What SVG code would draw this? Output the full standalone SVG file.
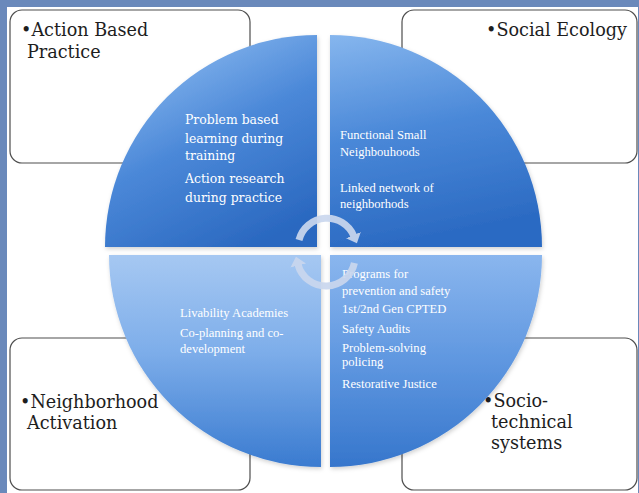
<svg xmlns="http://www.w3.org/2000/svg" width="639" height="493" viewBox="0 0 639 493">
<defs>
<style>
.box{fill:#ffffff;stroke:#4e4e4e;stroke-width:1.2}
.lbl{font-family:"DejaVu Serif","Liberation Serif",serif;font-size:17.6px;fill:#1e1e1e}
.qa{font-family:"DejaVu Serif","Liberation Serif",serif;font-size:12.4px;fill:#ffffff}
.qb{font-family:"Liberation Serif","DejaVu Serif",serif;font-size:12.6px;fill:#ffffff}
.arc{fill:none;stroke:#cad7ee;stroke-width:7;opacity:0.92}
</style>
<linearGradient id="gTL" x1="0.2" y1="0" x2="0.7" y2="1">
<stop offset="0" stop-color="#92bff2"/>
<stop offset="0.5" stop-color="#4b88d8"/>
<stop offset="1" stop-color="#2a68c0"/>
</linearGradient>
<linearGradient id="gTR" x1="0" y1="0" x2="0.2" y2="1">
<stop offset="0" stop-color="#86b6ee"/>
<stop offset="0.5" stop-color="#4a88d8"/>
<stop offset="1" stop-color="#2c6bc3"/>
</linearGradient>
<linearGradient id="gBL" x1="0" y1="0" x2="0" y2="1">
<stop offset="0" stop-color="#a6c8f2"/>
<stop offset="0.45" stop-color="#7eaeea"/>
<stop offset="1" stop-color="#3a7bd0"/>
</linearGradient>
<linearGradient id="gBR" x1="0" y1="0" x2="0" y2="1">
<stop offset="0" stop-color="#8ab6ee"/>
<stop offset="0.5" stop-color="#5f97e0"/>
<stop offset="1" stop-color="#3676cc"/>
</linearGradient>
<filter id="sh" x="-10%" y="-10%" width="120%" height="120%">
<feDropShadow dx="1" dy="2" stdDeviation="2" flood-color="#000" flood-opacity="0.18"/>
</filter>
<marker id="ah" markerUnits="userSpaceOnUse" markerWidth="10" markerHeight="16" refX="1" refY="8" orient="auto">
<path d="M0,0 L9,8 L0,16 Z" fill="#cad7ee"/>
</marker>
</defs>
<rect x="0" y="0" width="639" height="493" fill="#6a89bb"/>
<rect x="7" y="7" width="631" height="486" fill="#ffffff"/>

<g id="box-action-based-practice">
<rect class="box" x="10" y="10" width="240" height="153" rx="12"/>
<text class="lbl" x="21" y="36">•Action Based</text>
<text class="lbl" x="27" y="58">Practice</text>
</g>
<g id="box-social-ecology">
<rect class="box" x="402" y="10" width="235" height="153" rx="12"/>
<text class="lbl" x="486" y="36">•Social Ecology</text>
</g>
<g id="box-neighborhood-activation">
<rect class="box" x="10" y="338" width="240" height="152" rx="12"/>
<text class="lbl" x="20" y="408">•Neighborhood</text>
<text class="lbl" x="27" y="429">Activation</text>
</g>
<g id="box-socio-technical">
<rect class="box" x="402" y="338" width="235" height="152" rx="12"/>
<text class="lbl" x="483" y="407">•Socio-</text>
<text class="lbl" x="491" y="428">technical</text>
<text class="lbl" x="491" y="449">systems</text>
</g>

<g id="quad-top-left">
<path d="M317,247 L105,247 A212,212 0 0 1 317,35 Z" fill="url(#gTL)" filter="url(#sh)"/>
<text class="qa" x="185" y="124">Problem based</text>
<text class="qa" x="185" y="143">learning during</text>
<text class="qa" x="185" y="160">training</text>
<text class="qa" x="185" y="183">Action research</text>
<text class="qa" x="185" y="202">during practice</text>
</g>
<g id="quad-top-right">
<path d="M330,247 L330,35 A212,212 0 0 1 542,247 Z" fill="url(#gTR)" filter="url(#sh)"/>
<text class="qb" x="340" y="139">Functional Small</text>
<text class="qb" x="340" y="156">Neighbouhoods</text>
<text class="qb" x="340" y="192">Linked network of</text>
<text class="qb" x="340" y="208">neighborhods</text>
</g>
<g id="quad-bottom-left">
<path d="M321,255 L321,467 A212,212 0 0 1 109,255 Z" fill="url(#gBL)" filter="url(#sh)"/>
<text class="qb" x="180" y="317">Livability Academies</text>
<text class="qb" x="180" y="337">Co-planning and co-</text>
<text class="qb" x="180" y="353">development</text>
</g>
<g id="quad-bottom-right">
<path d="M330,255 L542,255 A212,212 0 0 1 330,467 Z" fill="url(#gBR)" filter="url(#sh)"/>
<text class="qb" x="342" y="278">Programs for</text>
<text class="qb" x="342" y="295">prevention and safety</text>
<text class="qb" x="342" y="313">1st/2nd Gen CPTED</text>
<text class="qb" x="342" y="333">Safety Audits</text>
<text class="qb" x="342" y="352">Problem-solving</text>
<text class="qb" x="342" y="366">policing</text>
<text class="qb" x="342" y="388">Restorative Justice</text>
</g>

<g id="connectors">
<path class="arc" d="M299,240 A29,29 0 0 1 353.8,236" marker-end="url(#ah)"/>
<path class="arc" d="M354.4,263 A29,29 0 0 1 298,264.5" marker-end="url(#ah)"/>
</g>
</svg>
